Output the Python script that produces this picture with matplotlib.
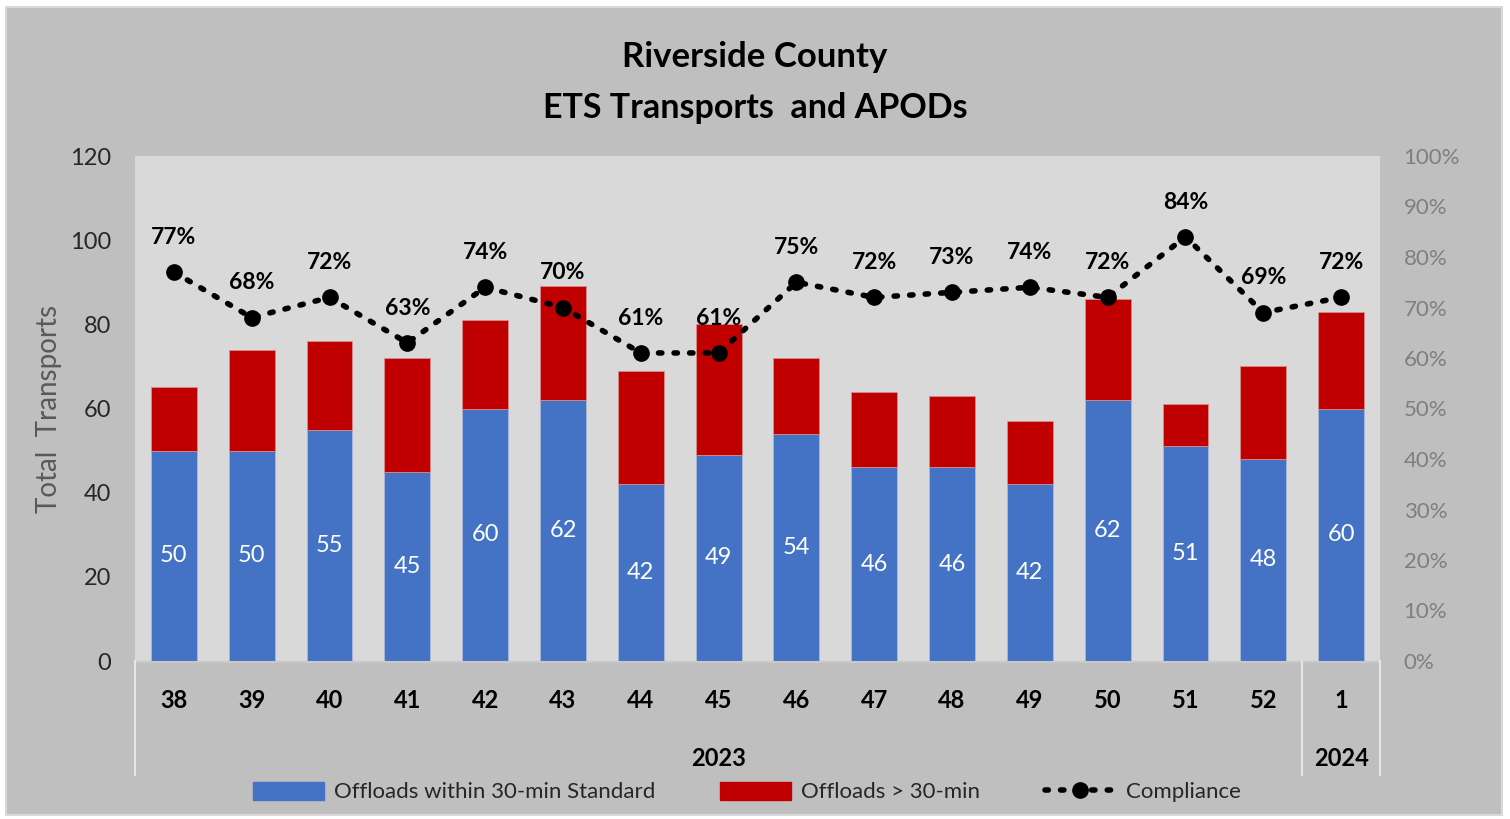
import matplotlib
matplotlib.use("Agg")
import matplotlib.pyplot as plt
from matplotlib.patches import Rectangle
from matplotlib.lines import Line2D
from matplotlib.ticker import PercentFormatter

plt.rcParams["font.family"] = ["Lato", "DejaVu Sans"]

# chart data
weeks = ["38", "39", "40", "41", "42", "43", "44", "45",
         "46", "47", "48", "49", "50", "51", "52", "1"]
years = ["2023", "2024"]
weeks_per_year = [15, 1]
within_30 = [50, 50, 55, 45, 60, 62, 42, 49, 54, 46, 46, 42, 62, 51, 48, 60]
over_30 = [15, 24, 21, 27, 21, 27, 27, 31, 18, 18, 17, 15, 24, 10, 22, 23]
compliance = [77, 68, 72, 63, 74, 70, 61, 61, 75, 72, 73, 74, 72, 84, 69, 72]

blue = "#4472C4"
red = "#C00000"
W, H = 1510, 819

fig = plt.figure(figsize=(W / 100, H / 100), dpi=100, facecolor="white")
# chart background with thin light border
fig.patches.append(Rectangle((6 / W, 1 - 815 / H), 1496 / W, 808 / H,
                             transform=fig.transFigure, facecolor="#BFBFBF",
                             edgecolor="#D9D9D9", linewidth=1.5, zorder=-5))

left, right, top, bottom = 135, 1380, 156, 661
ax = fig.add_axes([left / W, 1 - bottom / H, (right - left) / W, (bottom - top) / H])
ax.set_facecolor("#D9D9D9")

x = list(range(len(weeks)))
ax.bar(x, within_30, width=0.59, color=blue, edgecolor="#A9B9DA", linewidth=0.6,
       zorder=2, label="Offloads within 30-min Standard")
ax.bar(x, over_30, bottom=within_30, width=0.59, color=red, edgecolor="#D98C8C",
       linewidth=0.6, zorder=2, label="Offloads > 30-min")

for xi, v in zip(x, within_30):
    ax.text(xi, v / 2, str(v), ha="center", va="center", color="white",
            fontsize=17, zorder=3)

ax.set_xlim(-0.5, len(weeks) - 0.5)
ax.set_ylim(0, 120)
ax.set_yticks(range(0, 121, 20))
ax.tick_params(axis="y", length=0, labelsize=17, labelcolor="#262626", pad=17)
ax.set_xticks([])
for s in ax.spines.values():
    s.set_visible(False)
ax.set_ylabel("Total  Transports", fontsize=20, color="#595959")
ax.yaxis.set_label_coords((62 - left) / (right - left), 0.5)

ax2 = ax.twinx()
ax2.set_ylim(0, 1)
ax2.set_yticks([i / 10 for i in range(11)])
ax2.yaxis.set_major_formatter(PercentFormatter(1.0, decimals=0))
ax2.tick_params(axis="y", length=0, labelsize=16, labelcolor="#7F7F7F", pad=17)
for s in ax2.spines.values():
    s.set_visible(False)

comp = [c / 100 for c in compliance]
ax2.plot(x, comp, color="black", linestyle=(0, (0.6, 2.2)), linewidth=4,
         dash_capstyle="round", marker="o", markersize=11, zorder=4)
for xi, c, lab in zip(x, comp, compliance):
    ax2.annotate(f"{lab}%", (xi, c), xytext=(0, 25), textcoords="offset points",
                 ha="center", va="center", fontsize=16.5, fontweight="bold")

# category axis: week numbers and year groups
sep = "#E6E6E6"
to_px = lambda px: 1 - px / H
fig.add_artist(Line2D([left / W, right / W], [to_px(bottom + 1)] * 2, color="#C8C8C8", lw=1.5))
for xi, w in zip(x, weeks):
    fx = (left + (xi + 0.5) * (right - left) / len(weeks)) / W
    fig.text(fx, to_px(701), w, ha="center", va="center", fontsize=17, fontweight="bold")

start = 0
bounds = [left]
for yr, n in zip(years, weeks_per_year):
    x0 = left + start * (right - left) / len(weeks)
    x1 = left + (start + n) * (right - left) / len(weeks)
    fig.text((x0 + x1) / 2 / W, to_px(758), yr, ha="center", va="center",
             fontsize=17, fontweight="bold")
    bounds.append(x1)
    start += n
for bx in bounds:
    fig.add_artist(Line2D([bx / W] * 2, [to_px(bottom), to_px(775)], color=sep, lw=1.5))

fig.text(755 / W, to_px(57), "Riverside County", ha="center", va="center",
         fontsize=25, fontweight="bold")
fig.text(755 / W, to_px(108), "ETS Transports  and APODs", ha="center", va="center",
         fontsize=24.5, fontweight="bold")

handles = [
    Rectangle((0, 0), 1, 1, color=blue),
    Rectangle((0, 0), 1, 1, color=red),
    Line2D([], [], color="black", linestyle=(0, (0.6, 2.2)), linewidth=4,
           dash_capstyle="round", marker="o", markersize=11),
]
labels = ["Offloads within 30-min Standard", "Offloads > 30-min", "Compliance"]
fig.legend(handles, labels, loc="center", bbox_to_anchor=(747 / W, to_px(792)),
           ncol=3, frameon=False, fontsize=16, handlelength=3.2, handleheight=0.9,
           columnspacing=2.9, handletextpad=0.45, labelcolor="#262626")

fig.savefig("out.png", dpi=100, facecolor=fig.get_facecolor())
